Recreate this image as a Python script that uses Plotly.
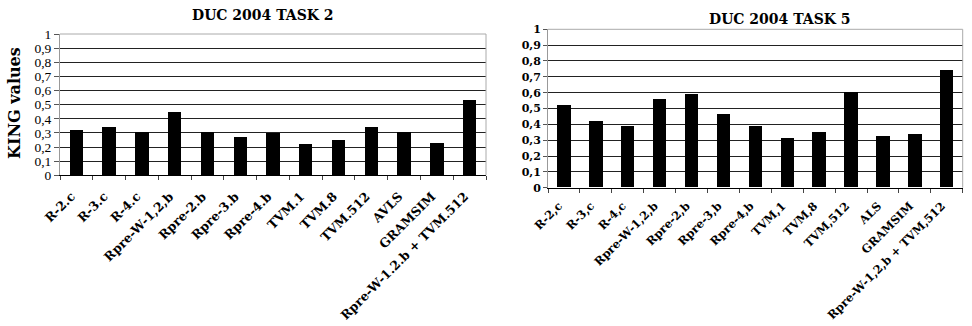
import plotly.graph_objects as go

cats_left = ["R-2.c", "R-3.c", "R-4.c", "Rpre-W-1,2,b", "Rpre-2.b", "Rpre-3.b", "Rpre-4.b",
             "TVM.1", "TVM.8", "TVM.512", "AVLS", "GRAMSIM", "Rpre-W-1.2.b + TVM.512"]
vals_left = [0.32, 0.34, 0.31, 0.45, 0.31, 0.27, 0.30, 0.22, 0.25, 0.34, 0.31, 0.23, 0.53]

cats_right = ["R-2,c", "R-3,c", "R-4,c", "Rpre-W-1,2,b", "Rpre-2,b", "Rpre-3,b", "Rpre-4,b",
              "TVM,1", "TVM,8", "TVM,512", "ALS", "GRAMSIM", "Rpre-W-1,2,b + TVM,512"]
vals_right = [0.52, 0.42, 0.385, 0.56, 0.59, 0.465, 0.385, 0.315, 0.35, 0.60, 0.325, 0.335, 0.74]

y_tickvals = [0, 0.1, 0.2, 0.3, 0.4, 0.5, 0.6, 0.7, 0.8, 0.9, 1]
y_ticktext = ["0", "0,1", "0,2", "0,3", "0,4", "0,5", "0,6", "0,7", "0,8", "0,9", "1"]

title_left = "DUC 2004 TASK 2"
title_right = "DUC 2004 TASK 5"
y_title = "KING values"

SERIF_B = "DejaVu Serif"
fig = go.Figure()
fig.add_trace(go.Bar(x=cats_left, y=vals_left, marker=dict(color="black", line=dict(width=0)),
                     width=0.41, xaxis="x", yaxis="y", showlegend=False))
fig.add_trace(go.Bar(x=cats_right, y=vals_right, marker=dict(color="black", line=dict(width=0)),
                     width=0.42, xaxis="x2", yaxis="y2", showlegend=False))

W, H = 972, 326
def px(x): return x / W
def py(y): return (H - y) / H

common_x = dict(type="category", showgrid=False, showline=True, linecolor="black", linewidth=1,
                ticks="outside", ticklen=4, tickcolor="#444", tickangle=-45, automargin=False,
                showdividers=False, tickson="boundaries", fixedrange=True)
fig.update_layout(
    width=W, height=H, margin=dict(l=0, r=0, t=0, b=0, autoexpand=False),
    paper_bgcolor="white", plot_bgcolor="white", bargap=0,
    xaxis=dict(domain=[px(60), px(486)], anchor="y", ticklabelstandoff=8, ticklabelshift=-5,
               tickfont=dict(family=SERIF_B, size=12.5, color="#000000", weight="bold"), **common_x),
    yaxis=dict(domain=[py(175.3), py(34)], anchor="x", range=[0, 1], automargin=False,
               tickvals=y_tickvals, ticktext=y_ticktext,
               tickfont=dict(family="Liberation Serif", size=13.5, color="#000000"),
               showgrid=True, gridcolor="#222", gridwidth=1,
               showline=True, linecolor="#999", linewidth=1,
               ticks="outside", ticklen=5, tickcolor="#555", zeroline=False, fixedrange=True),
    xaxis2=dict(domain=[px(548), px(962.7)], anchor="y2", ticklabelstandoff=6, ticklabelshift=-5,
                tickfont=dict(family=SERIF_B, size=11.5, color="#000000", weight="bold"), **common_x),
    yaxis2=dict(domain=[py(187.7), py(29.3)], anchor="x2", range=[0, 1], automargin=False,
                tickvals=y_tickvals, ticktext=y_ticktext,
                tickfont=dict(family=SERIF_B, size=11, color="#000000", weight="bold"),
                showgrid=True, gridcolor="#222", gridwidth=1,
                showline=True, linecolor="#999", linewidth=1,
                ticks="outside", ticklen=4, tickcolor="#555", zeroline=False, fixedrange=True),
    shapes=[
        dict(type="line", xref="x domain", yref="y domain", x0=0, x1=1, y0=1, y1=1,
             line=dict(color="#aaa", width=1)),
        dict(type="line", xref="x domain", yref="y domain", x0=1, x1=1, y0=0, y1=1,
             line=dict(color="#aaa", width=1)),
        dict(type="line", xref="x2 domain", yref="y2 domain", x0=0, x1=1, y0=1, y1=1,
             line=dict(color="#aaa", width=1)),
        dict(type="line", xref="x2 domain", yref="y2 domain", x0=1, x1=1, y0=0, y1=1,
             line=dict(color="#aaa", width=1)),
    ],
    annotations=[
        dict(text=title_left, x=px(263), y=py(15), xref="paper", yref="paper",
             showarrow=False, xanchor="center", yanchor="middle",
             font=dict(family=SERIF_B, size=14, color="black", weight="bold")),
        dict(text=title_right, x=px(780), y=py(19), xref="paper", yref="paper",
             showarrow=False, xanchor="center", yanchor="middle",
             font=dict(family=SERIF_B, size=14, color="black", weight="bold")),
        dict(text=y_title, x=px(15), y=py(103), xref="paper", yref="paper", textangle=-90,
             showarrow=False, xanchor="center", yanchor="middle",
             font=dict(family=SERIF_B, size=16, color="black", weight="bold")),
    ],
)
fig.write_html("out.html")
